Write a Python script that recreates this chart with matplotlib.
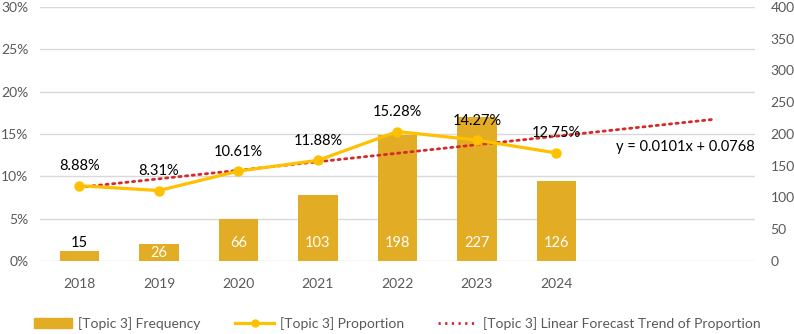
# Topic 3: frequency bars + proportion line + linear trend

import numpy as np
import matplotlib.pyplot as plt
from matplotlib.lines import Line2D
from matplotlib.patches import Patch

years = ["2018", "2019", "2020", "2021", "2022", "2023", "2024"]
frequency = [15, 26, 66, 103, 198, 227, 126]
proportion = [0.0888, 0.0831, 0.1061, 0.1188, 0.1528, 0.1427, 0.1275]
forecast_forward = 2

plt.rcParams['font.family'] = ['Lato', 'DejaVu Sans']

bar_col = "#E2AC25"
line_col = "#FFC000"
trend_col = "#D42A2A"
grid_col = "#D9D9D9"
tick_col = "#595959"

fig, ax = plt.subplots(figsize=(7.94, 3.34), dpi=100)
fig.subplots_adjust(left=0.05, right=0.951, top=0.979, bottom=0.219)
axl = ax.twinx()

x = np.arange(len(years))

# bars on the right (0-400) axis
ax.bar(x, frequency, width=0.5, color=bar_col, zorder=2)
ax.set_ylim(0, 400)
ax.set_yticks(np.arange(0, 401, 50))
ax.yaxis.tick_right()
ax.set_xlim(-0.5, len(years) - 1 + forecast_forward + 0.5)
ax.set_xticks(x)
ax.set_xticklabels(years)

# gridlines follow the left percent axis, drawn behind the bars
for v in np.arange(0, 0.301, 0.05):
    ax.axhline(v / 0.30 * 400, color=grid_col, lw=1, zorder=0)

for xi, f in zip(x, frequency):
    if f < 20:
        ax.annotate(str(f), (xi, f), xytext=(0, 1), textcoords="offset points",
                    ha="center", va="bottom", fontsize=10.5, color="black", zorder=3)
    else:
        ax.text(xi, min(28, f / 2), str(f), ha="center", va="center",
                fontsize=10.5, color="white", zorder=3)

# proportion line on the left axis
axl.plot(x, proportion, color=line_col, lw=2.3, marker="o", ms=6.5, zorder=3)
for xi, p in zip(x, proportion):
    axl.annotate(f"{p*100:.2f}%", (xi, p), xytext=(0, 9), textcoords="offset points",
                 ha="center", va="bottom", fontsize=10.5, color="black")

# linear trend, x counted 1..n like Excel, extended forward
xt = np.arange(1, len(years) + 1)
k, b = np.polyfit(xt, proportion, 1)
xf = np.arange(1, len(years) + forecast_forward + 1)
axl.plot(xf - 1, k * xf + b, color=trend_col, lw=2, linestyle=(0, (0.8, 1.6)),
         dash_capstyle="round", zorder=2)
axl.text(len(years) - 1 + forecast_forward + 0.5, 0.135, f"y = {k:.4f}x + {b:.4f}",
         ha="right", va="center", fontsize=10.5, color="black")

axl.set_ylim(0, 0.30)
axl.set_yticks(np.arange(0, 0.301, 0.05))
axl.set_yticklabels([f"{int(round(v*100))}%" for v in np.arange(0, 0.301, 0.05)])
axl.yaxis.tick_left()

for a in (ax, axl):
    for s in a.spines.values():
        s.set_visible(False)
ax.tick_params(axis="y", length=0, pad=11, labelsize=10, labelcolor=tick_col)
ax.tick_params(axis="x", length=0, pad=12, labelsize=10, labelcolor=tick_col)
axl.tick_params(axis="y", length=0, pad=8, labelsize=10, labelcolor=tick_col)

handles = [
    Patch(color=bar_col),
    Line2D([], [], color=line_col, lw=2.3, marker="o", ms=5),
    Line2D([], [], color=trend_col, lw=2, linestyle=(0, (0.8, 1.6))),
]
labels = ["[Topic 3] Frequency", "[Topic 3] Proportion",
          "[Topic 3] Linear Forecast Trend of Proportion"]
fig.legend(handles, labels, loc="lower center", bbox_to_anchor=(0.5, -0.025), ncol=3,
           frameon=False, fontsize=10, handlelength=2.8, columnspacing=2.5,
           handletextpad=0.4, labelcolor=tick_col)

plt.savefig("out.png", dpi=100)
